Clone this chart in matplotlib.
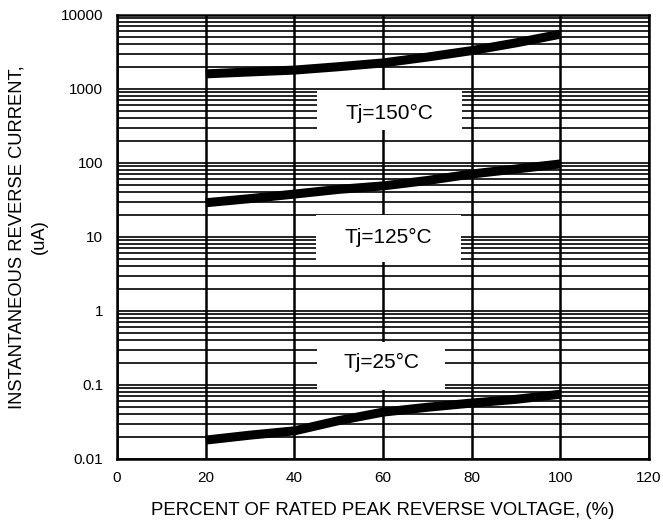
import matplotlib
matplotlib.use("Agg")
from matplotlib import pyplot as plt
from matplotlib.patches import Rectangle
from matplotlib.ticker import FixedLocator, NullFormatter

plt.rcParams['font.family'] = ['Liberation Sans', 'DejaVu Sans']

# data
volts = [20, 30, 40, 50, 60, 70, 80, 90, 100]
i_150 = [1600, 1700, 1800, 2000, 2250, 2700, 3300, 4200, 5500]
i_125 = [29, 33, 38, 44, 49, 58, 71, 83, 97]
i_25 = [0.018, 0.021, 0.024, 0.033, 0.043, 0.050, 0.057, 0.064, 0.075]

labels = ["Tj=150°C", "Tj=125°C", "Tj=25°C"]

y_ticks = [0.01, 0.1, 1, 10, 100, 1000, 10000]
y_ticklabels = ["0.01", "0.1", "1", "10", "100", "1000", "10000"]
x_ticks = [0, 20, 40, 60, 80, 100, 120]

# white label boxes: (x0, x1, y_low, y_high), text position
boxes = [(45.1, 77.8, 280, 960), (44.9, 77.5, 4.6, 20), (45.1, 74.0, 0.086, 0.38)]
text_pos = [(61.4, 470), (61.2, 9.7), (59.6, 0.2)]

fig = plt.figure(figsize=(6.63, 5.22), dpi=100)
ax = fig.add_axes([0.1765, 0.1207, 0.8025, 0.8506])

ax.set_yscale("log")
ax.set_xlim(0, 120)
ax.set_ylim(0.01, 10000)

minors = [m * 10.0 ** e for e in range(-2, 4) for m in range(2, 10)]
ax.yaxis.set_major_locator(FixedLocator(y_ticks))
ax.yaxis.set_minor_locator(FixedLocator(minors))
ax.yaxis.set_minor_formatter(NullFormatter())
ax.set_yticks(y_ticks)
ax.set_yticklabels(y_ticklabels)
ax.set_xticks(x_ticks)

ax.grid(True, which="both", axis="y", color="black", linewidth=1.2)
ax.grid(True, which="major", axis="x", color="black", linewidth=1.8)
ax.tick_params(which="both", length=0, labelsize=11)
ax.tick_params(axis="y", pad=10)
ax.tick_params(axis="x", pad=9)
for s in ax.spines.values():
    s.set_linewidth(1.8)

for ys in (i_150, i_125, i_25):
    ax.plot(volts, ys, color="black", linewidth=6.5, solid_capstyle="butt", zorder=3)

for (x0, x1, y0, y1), txt, (tx, ty) in zip(boxes, labels, text_pos):
    ax.add_patch(Rectangle((x0, y0), x1 - x0, y1 - y0, facecolor="white",
                           edgecolor="none", zorder=4))
    ax.text(tx, ty, txt, fontsize=15, ha="center", va="center", zorder=5)

ax.set_xlabel("PERCENT OF RATED PEAK REVERSE VOLTAGE, (%)", fontsize=13.4, labelpad=12)
ax.set_ylabel("INSTANTANEOUS REVERSE CURRENT,\n(uA)", fontsize=13.2, labelpad=9,
              linespacing=1.45)

fig.savefig("out.png", dpi=100)
